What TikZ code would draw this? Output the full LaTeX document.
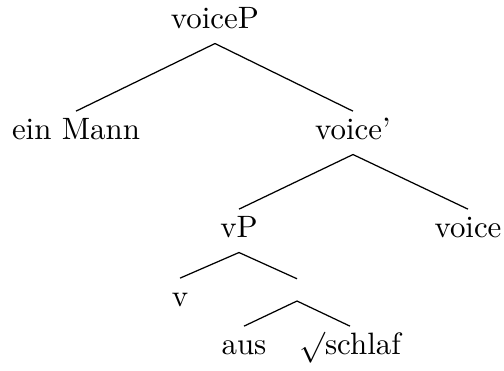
\documentclass[tikz,border=0pt]{standalone}
\begin{document}
\begin{tikzpicture}[x=0.3235pt, y=-0.3235pt,
        rotulo/.style={anchor=base, inner sep=0pt, text height=6.83pt, text depth=0pt},
        vazio/.style={inner sep=0pt, minimum size=0pt}]
        \useasboundingbox (0,0) rectangle (504,371);

        % Nós
        \node[rotulo] (voiceP) at (215,29) {voiceP};
        \node[rotulo] (mann) at (76,140) {ein Mann};
        \node[rotulo] (voicebar) at (353,140) {voice'};
        \node[rotulo] (vP) at (239,238) {vP};
        \node[rotulo] (voice) at (468,238) {voice};
        \node[rotulo] (v) at (180,307) {v};
        \node[vazio] (vbar) at (297,286.5) {};
        \node[rotulo] (aus) at (244,355) {aus};
        \node[rotulo] (schlaf) at (350,355) {$\surd$schlaf};

        % Ramos
        \foreach \pai/\filho in {voiceP/mann, voiceP/voicebar, voicebar/vP, voicebar/voice,
                                 vP/v, vP/vbar, vbar/aus, vbar/schlaf}
            \draw ([yshift=-4.5pt]\pai.south) -- ([yshift=2.3pt]\filho.north);
    \end{tikzpicture}
\end{document}
